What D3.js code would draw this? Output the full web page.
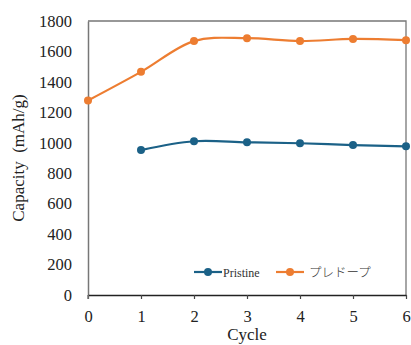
<!DOCTYPE html>
<html><head><meta charset="utf-8">
<script src="https://cdn.jsdelivr.net/npm/d3@7/dist/d3.min.js"></script>
<style>body{margin:0;background:#fff}svg{display:block}</style>
</head><body>
<svg id="c" width="411" height="345"></svg>
<script>
const cycles = [0,1,2,3,4,5,6];
const xTicks = [0,1,2,3,4,5,6];
const yTicks = [0,200,400,600,800,1000,1200,1400,1600,1800];
const pristineCycles = [1,2,3,4,5,6];
const pristine = [952,1010,1003,997,985,977];
const predopeCycles = [0,1,2,3,4,5,6];
const predope = [1278,1466,1668,1687,1668,1682,1674];
const seriesNames = ["Pristine","プレドープ"];
const colors = ["#1b6187","#ed7d31"];
const SERIF = "Liberation Serif";

const svg = d3.select("#c");
const m = {l:88, r:5, t:21, b:50};
const W = 411, H = 345;
const x = d3.scaleLinear().domain([0,6]).range([m.l, W-m.r]);
const y = d3.scaleLinear().domain([0,1800]).range([H-m.b, m.t]);

// frame top/right
svg.append("path").attr("d",`M${x(0)},${y(1800)}H${x(6)}V${y(0)}`).attr("fill","none").attr("stroke","#777").attr("stroke-width",1.3);

// y axis
const ya = svg.append("g").attr("transform",`translate(${x(0)},0)`)
  .call(d3.axisLeft(y).tickValues(yTicks).tickFormat(d3.format("d")).tickSize(0).tickPadding(16));
ya.attr("font-family",SERIF);
ya.select(".domain").attr("stroke","#777").attr("stroke-width",1.5);
ya.selectAll("text").attr("font-family",SERIF).attr("font-size",16.5).attr("fill","#222");

// x axis
const xa = svg.append("g").attr("transform",`translate(0,${y(0)})`)
  .call(d3.axisBottom(x).tickValues(xTicks).tickFormat(d3.format("d")).tickSize(4).tickPadding(11).tickSizeOuter(0));
xa.attr("font-family",SERIF);
xa.select(".domain").attr("stroke","#222").attr("stroke-width",1.5);
xa.selectAll(".tick line").attr("stroke","#444").attr("stroke-width",1.2);
xa.selectAll("text").attr("font-family",SERIF).attr("font-size",16.5).attr("fill","#222");
svg.append("line").attr("x1",x(0)).attr("x2",x(0)).attr("y1",y(0)).attr("y2",y(0)+4).attr("stroke","#777").attr("stroke-width",1.5);

// labels
svg.append("text").attr("x",x(3)).attr("y",340).attr("text-anchor","middle").attr("font-family",SERIF).attr("font-size",17).attr("fill","#222").text("Cycle");
svg.append("text").attr("transform",`translate(24,${(y(0)+y(1800))/2}) rotate(-90)`).attr("text-anchor","middle").attr("font-family",SERIF).attr("font-size",17).attr("fill","#222").attr("xml:space","preserve").text("Capacity  (mAh/g)");

const line = d3.line().x(d=>x(d[0])).y(d=>y(d[1])).curve(d3.curveCatmullRom.alpha(0.5));
const series = [
  pristineCycles.map((c,i)=>[c,pristine[i]]),
  predopeCycles.map((c,i)=>[c,predope[i]])
];
series.forEach((s,k)=>{
  svg.append("path").datum(s).attr("d",line).attr("fill","none").attr("stroke",colors[k]).attr("stroke-width",2.2);
  svg.selectAll(null).data(s).enter().append("circle").attr("cx",d=>x(d[0])).attr("cy",d=>y(d[1])).attr("r",4).attr("fill",colors[k]);
});

// legend
const lg = [{x0:194,tx:223},{x0:276,tx:309}];
lg.forEach((p,k)=>{
  const g = svg.append("g");
  g.append("line").attr("x1",p.x0).attr("x2",p.x0+28).attr("y1",272).attr("y2",272).attr("stroke",colors[k]).attr("stroke-width",2.2);
  g.append("circle").attr("cx",p.x0+14).attr("cy",272).attr("r",4).attr("fill",colors[k]);
  g.append("text").attr("x",p.tx).attr("y",276.5).attr("font-size",k==0?12:12.5).attr("fill","#333")
   .attr("font-family",k==0?SERIF:"Noto Sans CJK JP").attr("font-weight",k==0?"normal":"300")
   .text(seriesNames[k]);
});
</script>
</body></html>
